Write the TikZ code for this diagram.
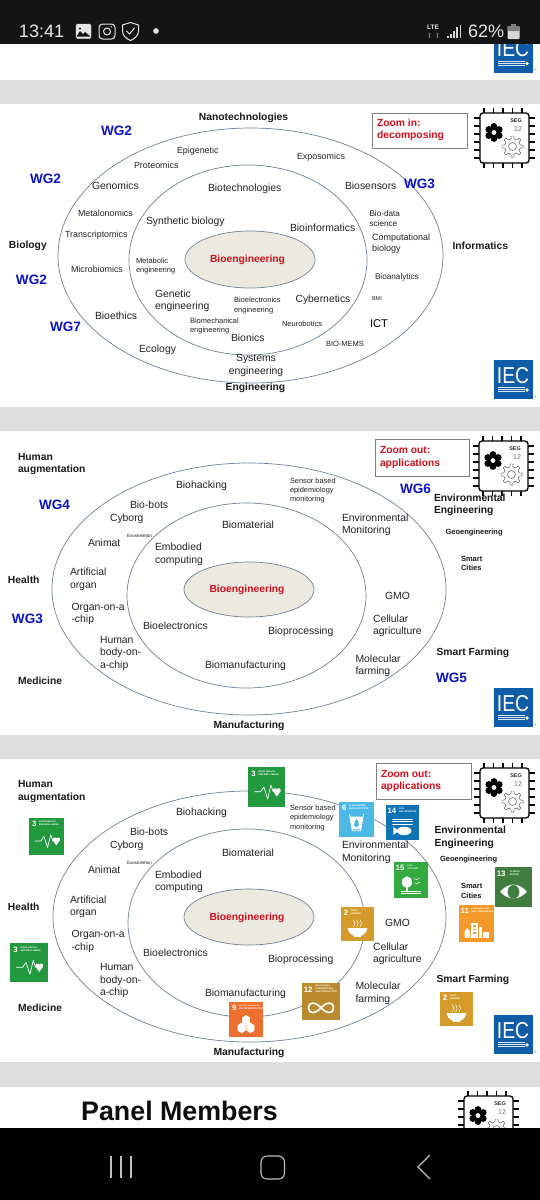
\documentclass[tikz,border=0pt]{standalone}
\usepackage{fontspec}
\setmainfont{Liberation Sans}
\usetikzlibrary{calc}
\definecolor{gbar}{HTML}{DEDEDE}
\definecolor{eline}{HTML}{6F8296}
\definecolor{efill}{HTML}{ECE9E0}
\definecolor{wgblue}{HTML}{0B12C4}
\definecolor{tred}{HTML}{D2101C}
\definecolor{ink}{HTML}{222222}
\definecolor{iecblue}{HTML}{0F5CA8}
\definecolor{sdgiii}{HTML}{22983F}
\definecolor{sdgii}{HTML}{D49A2C}
\definecolor{sdgvi}{HTML}{4CB8E6}
\definecolor{sdgxiv}{HTML}{0F72B5}
\definecolor{sdgxv}{HTML}{34A93F}
\definecolor{sdgxiii}{HTML}{3F7E3E}
\definecolor{sdgxi}{HTML}{F39A2A}
\definecolor{sdgxii}{HTML}{B98A2E}
\definecolor{sdgix}{HTML}{EE6F2E}
\newcommand{\fs}[2]{\fontsize{#1}{#2}\selectfont}
\tikzset{
  txt/.style={inner sep=0pt,outer sep=0pt,anchor=west,align=left,text=ink},
  big/.style={txt,font=\fs{10.4}{12.5}},
  mid/.style={txt,font=\fs{8.9}{10.5}},
  sml/.style={txt,font=\fs{7.5}{9.3}},
  hd/.style={txt,font=\bfseries\fs{10.3}{12.6},text=black!90},
  hds/.style={txt,font=\bfseries\fs{7.5}{9.4},text=black!90},
  wg/.style={txt,font=\bfseries\fs{13.6}{15},text=wgblue},
  zoomtxt/.style={txt,font=\bfseries\fs{10.3}{12.7},text=tred},
  core/.style={txt,anchor=center,font=\bfseries\fs{10.3}{12},text=tred},
  zoombox/.style={draw=black!50,line width=1pt,fill=white},
  oval/.style={draw=eline,line width=.7pt},
  ovalc/.style={draw=eline,line width=.7pt,fill=efill},
  stat/.style={inner sep=0pt,outer sep=0pt,text=black!10},
  tnum/.style={inner sep=0pt,outer sep=0pt,text=white,anchor=west,font=\bfseries\fs{7.8}{8}},
  tcap/.style={inner sep=0pt,outer sep=0pt,anchor=west,align=left,text=white,font=\bfseries\fs{2.3}{2.8}},
  il/.style={draw=white,line width=.7pt,line join=round,line cap=round},
  pics/iec/.style={code={
    \fill[iecblue] (0,0) rectangle (38.5,39);
    \node[inner sep=0pt,text=white,font=\fs{23}{24},xscale=.84] (-t) at (19,15.5) {IEC};
    \foreach \yy in {27.5,29.5,31.5}{\draw[white!85!iecblue,line width=.5pt] (4,\yy) -- (31,\yy);}
    \fill[white] (33,30) circle[radius=1.8pt];
    \node[inner sep=0pt,text=black!45,font=\fs{4}{4}] (-r) at (41,37) {®};
  }},
  pics/segchip/.style={code={
    \foreach \xx in {4,13.5,23,32.5,42}{\draw[black,line width=1.1pt] (\xx,-5) -- (\xx,0) (\xx,50) -- (\xx,55);}
    \foreach \yy in {5,13,21,29,37,45}{\draw[black,line width=1.1pt] (-6,\yy) -- (0,\yy) (49,\yy) -- (55,\yy);}
    \draw[black,line width=1.3pt,fill=white,rounded corners=3pt] (0,0) rectangle (49,50);
    \foreach \a in {0,60,...,300}{\fill[black] ($(14,19.5)+(\a+30:6)$) circle[radius=3.4pt];}
    \fill[black] (14,19.5) circle[radius=5pt];
    \fill[white] (14,19.5) circle[radius=2.4pt];
    \begin{scope}[shift={(32.5,33.5)}]
      \draw[black!70,line width=.45pt] (-12:7.8) \foreach \a in {0,45,...,315}{ -- ({\a-12}:7.8) -- ({\a-7}:10.6) -- ({\a+7}:10.6) -- ({\a+12}:7.8) } -- cycle;
      \draw[black!70,line width=.45pt] (0,0) circle[radius=4pt];
    \end{scope}
    \node[inner sep=0pt,text=black!85,font=\bfseries\fs{5.4}{6}] (-s) at (36,8) {SEG};
    \node[inner sep=0pt,text=black!55,font=\fs{7}{8}] (-n) at (38,16) {12};
  }}
}
\newcommand{\sdgtile}[9]{% name, x0,y0, w,h, colour, number, capx, caption
  \def\tname{#1}\def\tw{#4}\def\th{#5}\def\tc{#6}\def\tn{#7}\def\tx{#8}\def\tcp{#9}%
  \sdgrest{#2}{#3}}
\newcommand{\sdgrest}[3]{% x0,y0,icon
  \begin{scope}[shift={(#1,#2)},x=\tw pt,y=-\th pt]
    \fill[\tc] (0,0) rectangle (1,1);
    \ifnum\tn>9 \node[tnum] (\tname-n) at (.05,.17) {\tn};\else \node[tnum] (\tname-n) at (.09,.17) {\tn};\fi
    \node[tcap] (\tname-c) at (\tx,.15) {\tcp};
    #3
  \end{scope}}
\newcommand{\icpulse}{%
  \draw[il] (.17,.62) -- (.34,.62) -- (.43,.5) -- (.53,.8) -- (.62,.45) -- (.68,.62);
  \fill[white] (.73,.58) circle[radius=2pt] (.83,.58) circle[radius=2pt];
  \fill[white] (.675,.6) -- (.885,.6) -- (.78,.74) -- cycle;}
\newcommand{\icbowl}{%
  \fill[white] (.2,.62) .. controls (.25,.95) and (.75,.95) .. (.8,.62) -- cycle;
  \fill[white] (.38,.84) rectangle (.62,.88);
  \foreach \xx in {.38,.48,.58}{\draw[il,line width=.5pt] (\xx,.58) -- (\xx+.04,.48) -- (\xx,.38);}}
\newcommand{\icdrop}{%
  \draw[il,line width=.8pt] (.3,.35) -- (.38,.82) -- (.62,.82) -- (.7,.35);
  \fill[white] (.32,.42) -- (.68,.42) -- (.62,.78) -- (.38,.78) -- cycle;
  \fill[sdgvi] (.5,.48) .. controls (.62,.66) and (.56,.72) .. (.5,.72) .. controls (.44,.72) and (.38,.66) .. (.5,.48) -- cycle;}
\newcommand{\icfish}{%
  \foreach \yy in {.4,.47,.54}{\draw[il,line width=.5pt] (.2,\yy) -- (.8,\yy);}
  \fill[white] (.55,.74) ellipse[x radius=.22,y radius=.12];
  \fill[white] (.38,.74) -- (.22,.62) -- (.22,.86) -- cycle;}
\newcommand{\ictree}{%
  \fill[white] (.38,.56) ellipse[x radius=.15,y radius=.16];
  \fill[white] (.35,.6) rectangle (.41,.8);
  \fill[white] (.2,.8) rectangle (.8,.83);
  \fill[white] (.2,.87) rectangle (.8,.89);
  \draw[il,line width=.5pt] (.58,.46) -- (.66,.49) -- (.74,.45) (.6,.58) -- (.68,.6) -- (.76,.56);}
\newcommand{\iceye}{%
  \fill[white] (.14,.62) .. controls (.35,.38) and (.65,.38) .. (.86,.62) .. controls (.65,.84) and (.35,.84) .. (.14,.62) -- cycle;
  \fill[sdgxiii] (.5,.62) ellipse[x radius=.16,y radius=.17];}
\newcommand{\iccity}{%
  \fill[white] (.16,.72) -- (.24,.62) -- (.32,.72) -- (.32,.88) -- (.16,.88) -- cycle;
  \fill[white] (.36,.48) rectangle (.54,.88);
  \fill[white] (.58,.6) rectangle (.66,.88);
  \fill[white] (.7,.72) rectangle (.86,.88);
  \foreach \yy in {.55,.64,.73}{\fill[sdgxi] (.4,\yy) rectangle (.5,\yy+.04);}}
\newcommand{\icinf}{%
  \draw[il,line width=1.6pt] (.5,.67) .. controls (.35,.5) and (.17,.5) .. (.17,.67) .. controls (.17,.84) and (.35,.84) .. (.5,.67) .. controls (.65,.5) and (.83,.5) .. (.83,.67) .. controls (.83,.84) and (.65,.84) .. (.5,.67) -- cycle;}
\newcommand{\iccube}{%
  \foreach \cx/\cy in {.5/.52,.37/.74,.63/.74}{%
    \draw[il,line width=.5pt,fill=white] (\cx-.11,\cy-.07) -- (\cx,\cy-.14) -- (\cx+.11,\cy-.07) -- (\cx+.11,\cy+.07) -- (\cx,\cy+.14) -- (\cx-.11,\cy+.07) -- cycle;}}
\begin{document}
\begin{tikzpicture}[x=1pt,y=-1pt]
\useasboundingbox (0,0) rectangle (540,1200);
\fill[white] (0,0) rectangle (540,1200);
% grey bands
\fill[gbar] (0,80) rectangle (540,104);
\fill[gbar] (0,407) rectangle (540,431);
\fill[gbar] (0,735) rectangle (540,759);
\fill[gbar] (0,1062) rectangle (540,1087);
% panel 1 ovals
\draw[oval] (250.5,255.5) ellipse[x radius=192.5pt,y radius=127.5pt];
\draw[oval] (248,260) ellipse[x radius=119pt,y radius=95pt];
\draw[ovalc] (250,259.5) ellipse[x radius=65pt,y radius=28.5pt];
% panel 2 ovals
\draw[oval] (249,589) ellipse[x radius=197pt,y radius=126pt];
\draw[oval] (246.5,595.5) ellipse[x radius=119.5pt,y radius=92.5pt];
\draw[ovalc] (249,589.5) ellipse[x radius=65pt,y radius=27.5pt];
% panel 3 ovals
\draw[oval] (249.5,916.5) ellipse[x radius=196.5pt,y radius=125.5pt];
\draw[oval] (246.5,923) ellipse[x radius=118.5pt,y radius=94pt];
\draw[ovalc] (249,917) ellipse[x radius=65pt,y radius=28pt];
% logos
\pic (iec0) at (494,33.5) {iec};
\pic (iec1) at (494,360) {iec};
\pic (iec2) at (494,688) {iec};
\pic (iec3) at (494,1015) {iec};
% chips
\pic (chip1) at (480,113) {segchip};
\pic (chip2) at (479,441) {segchip};
\pic (chip3) at (480,768) {segchip};
\pic (chip4) at (464,1096) {segchip};
% zoom boxes
\draw[zoombox] (372,113) rectangle (467,148);
\draw[zoombox] (375,439) rectangle (469,476);
\draw[zoombox] (376,763) rectangle (471,799);
% panel 1 text
\node[hd,anchor=center] (a1) at (243.5,118) {Nanotechnologies};
\node[wg] (a2) at (101,131) {WG2};
\node[wg] (a3) at (30,179) {WG2};
\node[wg] (a4) at (16,280) {WG2};
\node[wg] (a5) at (50,327) {WG7};
\node[hd] (a6) at (9,246) {Biology};
\node[mid] (a7) at (177,151.5) {Epigenetic};
\node[mid] (a8) at (134,165) {Proteomics};
\node[big] (a9) at (92,186) {Genomics};
\node[mid] (a10) at (78,213) {Metalonomics};
\node[mid] (a11) at (65,235) {Transcriptomics};
\node[mid] (a12) at (71,269) {Microbiomics};
\node[big] (a13) at (95,316) {Bioethics};
\node[big] (a14) at (139,349.5) {Ecology};
\node[big] (a15) at (208,189) {Biotechnologies};
\node[big] (a16) at (146,222) {Synthetic biology};
\node[sml] (a17) at (136,266) {Metabolic\\engineering};
\node[big] (a18) at (155,301) {Genetic\\engineering};
\node[sml] (a19) at (190,326) {Biomechanical\\engineering};
\node[sml] (a20) at (234,305.5) {Bioelectronics\\engineering};
\node[big] (a21) at (231,338) {Bionics};
\node[big,align=center,anchor=center] (a22) at (256,365.5) {Systems\\engineering};
\node[hd,anchor=center] (a23) at (255.5,388) {Engineering};
\node[mid] (a24) at (297,157) {Exposomics};
\node[big] (a25) at (345,186) {Biosensors};
\node[wg] (a26) at (404,184) {WG3};
\node[txt,font=\fs{8.2}{10}] (a27) at (369.5,219) {Bio-data\\science};
\node[mid,font=\fs{9}{11}] (a28) at (372,244) {Computational\\biology};
\node[txt,font=\fs{8.2}{10}] (a29) at (375,277) {Bioanalytics};
\node[txt,font=\fs{5.5}{6}] (a30) at (372,299) {BMI};
\node[txt,font=\fs{11.2}{12},text=black] (a31) at (370,324) {ICT};
\node[sml] (a32) at (326,344) {BIO-MEMS};
\node[sml] (a33) at (282,323.5) {Neurobotics};
\node[big] (a34) at (295.5,300) {Cybernetics};
\node[big] (a35) at (290,228) {Bioinformatics};
\node[hd] (a36) at (452.5,246) {Informatics};
\node[core] (a37) at (247.5,260) {Bioengineering};
\node[zoomtxt] (a38) at (377,130) {Zoom in:\\decomposing};
% panel 2 text
\node[hd] (b1) at (18,464) {Human\\augmentation};
\node[big] (b2) at (176,485.5) {Biohacking};
\node[big] (b3) at (130,504.5) {Bio-bots};
\node[big] (b4) at (110,518.5) {Cyborg};
\node[txt,font=\fs{4.6}{5}] (b5) at (127,535.5) {Exoskeleton};
\node[big] (b6) at (88,542.5) {Animat};
\node[big] (b7) at (155,554.5) {Embodied\\computing};
\node[big] (b8) at (222,525) {Biomaterial};
\node[big] (b9) at (70,579.5) {Artificial\\organ};
\node[hd] (b10) at (8,579.5) {Health};
\node[big] (b11) at (71.5,614) {Organ-on-a\\-chip};
\node[big] (b12) at (143,625.5) {Bioelectronics};
\node[big] (b13) at (100,653) {Human\\body-on-\\a-chip};
\node[hd] (b14) at (18,680.5) {Medicine};
\node[big] (b15) at (205,666) {Biomanufacturing};
\node[hd,anchor=center] (b16) at (249,725.5) {Manufacturing};
\node[big] (b17) at (268,632) {Bioprocessing};
\node[big] (b18) at (342,525) {Environmental\\Monitoring};
\node[txt,font=\fs{7.4}{9.4}] (b19) at (290,490.5) {Sensor based\\epidemiology\\monitoring};
\node[big] (b20) at (385,596) {GMO};
\node[big] (b21) at (373,626) {Cellular\\agriculture};
\node[big] (b22) at (355.5,666) {Molecular\\farming};
\node[hd] (b23) at (434,505) {Environmental\\Engineering};
\node[hds] (b24) at (445.5,533) {Geoengineering};
\node[hds] (b25) at (461,563.5) {Smart\\Cities};
\node[hd] (b26) at (436.5,652.5) {Smart Farming};
\node[wg] (b27) at (400,489) {WG6};
\node[wg] (b28) at (436,678) {WG5};
\node[wg] (b29) at (39,505) {WG4};
\node[wg] (b30) at (12,619) {WG3};
\node[core] (b31) at (247,590) {Bioengineering};
\node[zoomtxt] (b32) at (380,457.5) {Zoom out:\\applications};
% panel 3 text
\node[hd] (c1) at (18,791.5) {Human\\augmentation};
\node[big] (c2) at (176,813) {Biohacking};
\node[big] (c3) at (130,832) {Bio-bots};
\node[big] (c4) at (110,846) {Cyborg};
\node[txt,font=\fs{4.6}{5}] (c5) at (127,863) {Exoskeleton};
\node[big] (c6) at (88,870) {Animat};
\node[big] (c7) at (155,882) {Embodied\\computing};
\node[big] (c8) at (222,852.5) {Biomaterial};
\node[big] (c9) at (70,907) {Artificial\\organ};
\node[hd] (c10) at (8,907) {Health};
\node[big] (c11) at (71.5,941.5) {Organ-on-a\\-chip};
\node[big] (c12) at (143,953) {Bioelectronics};
\node[big] (c13) at (100,980.5) {Human\\body-on-\\a-chip};
\node[hd] (c14) at (18,1008) {Medicine};
\node[big] (c15) at (205,993.5) {Biomanufacturing};
\node[hd,anchor=center] (c16) at (249,1053) {Manufacturing};
\node[big] (c17) at (268,959.5) {Bioprocessing};
\node[big] (c18) at (342,852.5) {Environmental\\Monitoring};
\node[txt,font=\fs{7.4}{9.4}] (c19) at (290,818) {Sensor based\\epidemiology\\monitoring};
\node[big] (c20) at (385,923) {GMO};
\node[big] (c21) at (373,954) {Cellular\\agriculture};
\node[big] (c22) at (355.5,993.5) {Molecular\\farming};
\node[hd] (c23) at (434.5,837.5) {Environmental\\Engineering};
\node[hds] (c24) at (440,860) {Geoengineering};
\node[hds] (c25) at (461,891) {Smart\\Cities};
\node[hd] (c26) at (436.5,980) {Smart Farming};
\node[core] (c27) at (247,917.5) {Bioengineering};
\node[zoomtxt] (c28) at (381,781) {Zoom out:\\applications};
% SDG tiles
\sdgtile{t1}{248}{767}{37}{40}{sdgiii}{3}{.28}{GOOD HEALTH\\AND WELL-BEING}{\icpulse}
\sdgtile{t2}{29}{818}{35}{37}{sdgiii}{3}{.28}{GOOD HEALTH\\AND WELL-BEING}{\icpulse}
\sdgtile{t3}{10}{943}{37.5}{39}{sdgiii}{3}{.28}{GOOD HEALTH\\AND WELL-BEING}{\icpulse}
\sdgtile{t4}{229}{1002}{34}{35}{sdgix}{9}{.28}{\fs{1.8}{2.4}INDUSTRY, INNOVATION\\AND INFRASTRUCTURE}{\iccube}
\sdgtile{t5}{302}{983}{38}{37}{sdgxii}{12}{.36}{\fs{2}{2.5}RESPONSIBLE\\CONSUMPTION\\AND PRODUCTION}{\icinf}
\sdgtile{t6}{341}{907}{33}{34}{sdgii}{2}{.3}{ZERO\\HUNGER}{\icbowl}
\sdgtile{t7}{339}{802}{35}{35}{sdgvi}{6}{.28}{CLEAN WATER\\AND SANITATION}{\icdrop}
\sdgtile{t8}{386}{805}{33}{35}{sdgxiv}{14}{.4}{LIFE\\BELOW WATER}{\icfish}
\sdgtile{t9}{394}{862}{34}{36}{sdgxv}{15}{.4}{LIFE\\ON LAND}{\ictree}
\sdgtile{t10}{495}{867}{37}{40}{sdgxiii}{13}{.4}{CLIMATE\\ACTION}{\iceye}
\sdgtile{t11}{459}{905}{34.5}{37}{sdgxi}{11}{.36}{\fs{1.7}{2.4}SUSTAINABLE CITIES\\AND COMMUNITIES}{\iccity}
\sdgtile{t12}{440}{992}{33}{34}{sdgii}{2}{.3}{ZERO\\HUNGER}{\icbowl}
% phone bars
\fill[black!92] (0,0) rectangle (540,44);
\fill[black] (0,1128) rectangle (540,1200);
% heading
\node[inner sep=0pt,anchor=west,font=\bfseries\fs{26.8}{28},text=black!95] (pm) at (81,1110.5) {Panel Members};
% status bar
\node[stat,anchor=west,font=\fs{18}{20}] (st1) at (19,31) {13:41};
\draw[white!90!black,fill=white!90!black,rounded corners=1.5pt] (76,24) rectangle (91,38.5);
\fill[black!92] (76.5,36.5) -- (80,31) -- (83,34) -- (85,32) -- (90.5,36.5) -- cycle;
\fill[black!92] (80,28.5) circle[radius=1.2pt];
\draw[white!90!black,line width=1pt,rounded corners=3.5pt] (99,24) rectangle (115,39);
\draw[white!90!black,line width=1pt] (107,31.5) circle[radius=3.5pt];
\fill[white!90!black] (111.5,26.8) circle[radius=.8pt];
\draw[white!90!black,line width=1pt,line join=round] (130.5,22.5) -- (138.5,25) -- (138.5,31) .. controls (138.5,36) and (134,39) .. (130.5,40.5) .. controls (127,39) and (122.5,36) .. (122.5,31) -- (122.5,25) -- cycle;
\draw[white!90!black,line width=1pt,line cap=round] (126.5,31) -- (129.5,34) -- (134.5,28);
\fill[white!90!black] (156,31) circle[radius=2.8pt];
\node[stat,font=\bfseries\fs{6.5}{7}] (st2) at (433,27) {LTE};
\draw[black!45,line width=.8pt] (429,38) -- (429,33) (437,38) -- (437,33);
\foreach \xx/\yy in {448/36,451/34,454/31,457/27,460.5/25}{\draw[white!85!black,line width=1.3pt] (\xx,38) -- (\xx,\yy);}
\node[stat,anchor=west,font=\fs{18}{20}] (st3) at (468,31) {62\%};
\fill[white!85!black,rounded corners=1pt] (507.5,26) rectangle (519.5,39);
\fill[black!50,rounded corners=1pt] (507.5,26) rectangle (519.5,31);
\fill[black!50] (511,23.5) rectangle (516,26);
% nav bar
\foreach \xx in {111,121,131}{\draw[black!25,line width=1.1pt] (\xx,1156) -- (\xx,1178);}
\draw[black!25,line width=1.1pt,rounded corners=6pt] (261,1156) rectangle (284.5,1179);
\draw[black!25,line width=1.1pt] (430,1155) -- (418,1167) -- (430,1179);
\end{tikzpicture}
\end{document}
